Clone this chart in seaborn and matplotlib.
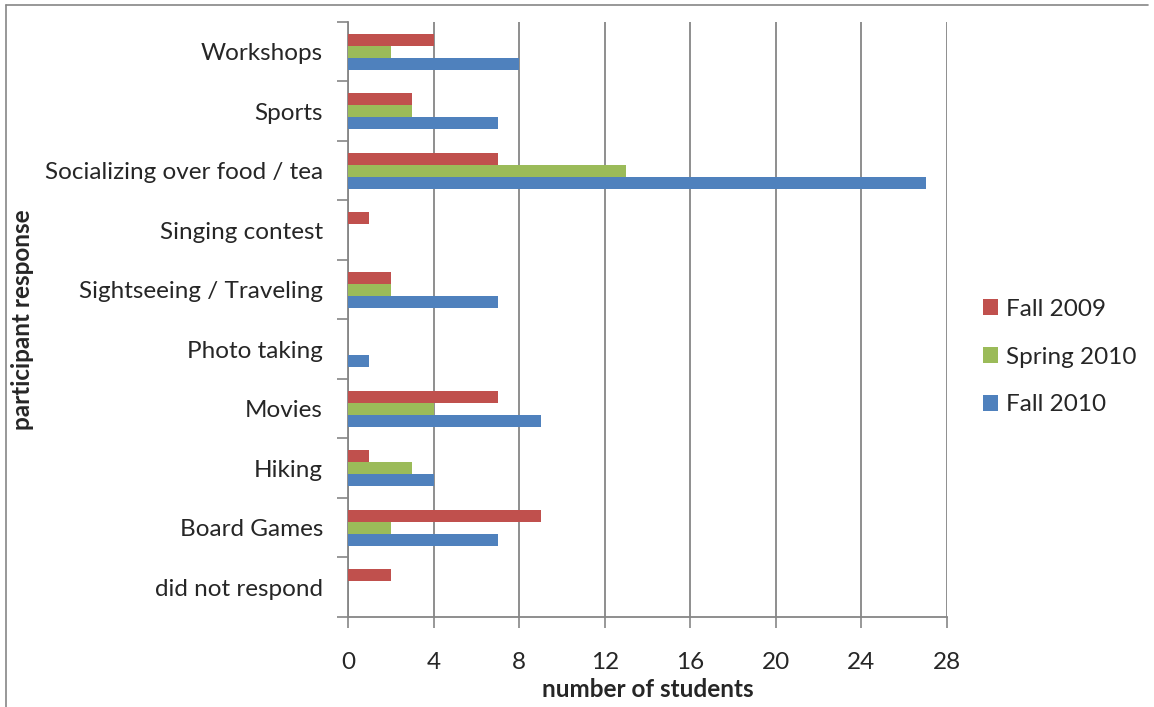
import matplotlib
import numpy as np
import pandas as pd

matplotlib.use("Agg")
import matplotlib.pyplot as plt
import seaborn as sns

categories = [
    "Workshops",
    "Sports",
    "Socializing over food / tea",
    "Singing contest",
    "Sightseeing / Traveling",
    "Photo taking",
    "Movies",
    "Hiking",
    "Board Games",
    "did not respond",
]
fall_2009 = [4, 3, 7, 1, 2, 0, 7, 1, 9, 2]
spring_2010 = [2, 3, 13, 0, 2, 0, 4, 3, 2, 0]
fall_2010 = [8, 7, 27, 0, 7, 1, 9, 4, 7, 0]
series_names = ["Fall 2009", "Spring 2010", "Fall 2010"]
x_ticks = [0, 4, 8, 12, 16, 20, 24, 28]

colors = ["#C0504D", "#9BBB59", "#4F81BD"]
grid_color = "#868686"
fs = 17.5

sns.set_theme(style="white")
plt.rcParams["font.family"] = ["Lato", "DejaVu Sans"]

# long form table for seaborn
df = pd.DataFrame(
    {
        "response": categories * 3,
        "students": fall_2009 + spring_2010 + fall_2010,
        "term": [s for s in series_names for _ in categories],
    }
)

fig = plt.figure(figsize=(11.54, 7.07), dpi=100)
ax = fig.add_axes([0.3016, 0.1273, 0.519, 0.8416])

sns.barplot(
    data=df,
    x="students",
    y="response",
    hue="term",
    order=categories,
    hue_order=series_names,
    palette=colors,
    orient="h",
    width=0.6,
    saturation=1,
    linewidth=0,
    ax=ax,
    zorder=3,
)

ax.set_xlim(0, 28)
ax.set_ylim(len(categories) - 0.5, -0.5)
ax.set_xticks(x_ticks)
ax.set_xticklabels([str(t) for t in x_ticks], fontsize=fs)
ax.tick_params(axis="x", direction="out", length=8, width=1.2, color=grid_color, pad=17, bottom=True)

ax.set_yticks(range(len(categories)))
ax.set_yticklabels(categories, fontsize=fs)
ax.tick_params(axis="y", which="major", length=0, pad=18)
ax.set_yticks(np.arange(-0.5, len(categories), 1.0), minor=True)
ax.tick_params(axis="y", which="minor", direction="out", length=8, width=1.2, color=grid_color, left=True)

ax.xaxis.grid(True, color=grid_color, linewidth=1.3)
ax.set_axisbelow(True)
for side in ["top", "right"]:
    ax.spines[side].set_visible(False)
for side in ["left", "bottom"]:
    ax.spines[side].set_color(grid_color)
    ax.spines[side].set_linewidth(1.3)

ax.set_xlabel("number of students", fontsize=fs, fontweight="bold", labelpad=4)
ax.set_ylabel("participant response", fontsize=fs, fontweight="bold", labelpad=8)

handles, labels = ax.get_legend_handles_labels()
ax.legend(
    handles,
    labels,
    loc="center left",
    bbox_to_anchor=(0.833, 0.495),
    bbox_transform=fig.transFigure,
    frameon=False,
    fontsize=fs,
    handlelength=0.62,
    handleheight=0.62,
    handletextpad=0.3,
    labelspacing=1.1,
)

# thin frame around the chart area, like the pasted office chart
fig.add_artist(plt.Line2D([0.005, 0.995], [0.993, 0.993], color=grid_color, linewidth=1.2))
fig.add_artist(plt.Line2D([0.005, 0.005], [0.0, 0.993], color=grid_color, linewidth=1.2))

fig.savefig("out.png", dpi=100)
